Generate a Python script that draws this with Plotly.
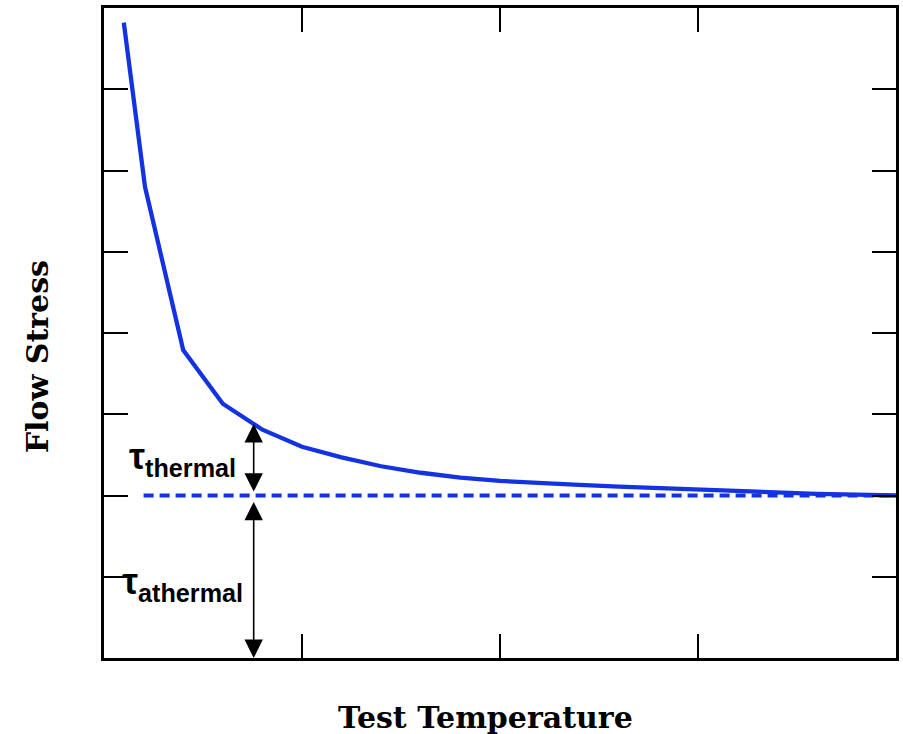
import plotly.graph_objects as go

# Data
temp = [0.1, 0.207, 0.4, 0.6, 0.8, 1.0, 1.2, 1.4, 1.6, 1.8, 2.0, 2.2, 2.4, 2.6, 2.8, 3.0, 3.2, 3.4, 3.6, 3.8, 4.0]
stress = [7.82, 5.80, 3.79, 3.13, 2.81, 2.60, 2.47, 2.36, 2.28, 2.22, 2.18, 2.15, 2.13, 2.11, 2.09, 2.07, 2.05, 2.04, 2.02, 2.01, 2.0]
athermal_x = [0.2, 4.0]
athermal_y = [2.0, 2.0]
arrow_x = 0.756
thermal_top = 2.88
athermal_level = 2.0
y_ticks = [1, 2, 3, 4, 5, 6, 7]
x_ticks = [1, 2, 3]

blue = "#1433e0"

fig = go.Figure()
fig.add_trace(go.Scatter(x=temp, y=stress, mode="lines",
                         line=dict(color=blue, width=4.3), showlegend=False))
fig.add_trace(go.Scatter(x=athermal_x, y=athermal_y, mode="lines",
                         line=dict(color=blue, width=4, dash="10px,6px"), showlegend=False))

arrow_common = dict(xref="x", yref="y", axref="x", ayref="y", text="",
                    showarrow=True, arrowhead=2, startarrowhead=2, arrowside="end+start",
                    arrowwidth=1.6, arrowsize=2.3, startarrowsize=2.3, arrowcolor="black",
                    standoff=0, startstandoff=0)
fig.add_annotation(x=arrow_x, y=thermal_top, ax=arrow_x, ay=athermal_level + 0.03, **arrow_common)
fig.add_annotation(x=arrow_x, y=0.0, ax=arrow_x, ay=athermal_level - 0.06, **arrow_common)

lab_font = dict(family="Liberation Sans, Arial", size=36, color="black")
fig.add_annotation(x=0.115, y=2.45, xref="x", yref="y", xanchor="left", yanchor="middle",
                   text="<b>τ<sub>thermal</sub></b>", showarrow=False, font=lab_font)
fig.add_annotation(x=0.08, y=0.91, xref="x", yref="y", xanchor="left", yanchor="middle",
                   text="<b>τ<sub>athermal</sub></b>", showarrow=False, font=lab_font)

title_font = dict(family="DejaVu Serif", size=30, color="black")
fig.add_annotation(x=487, y=717, xref="paper", yref="paper", showarrow=False,
                   text="<b>Test Temperature</b>", font=title_font)
fig.add_annotation(x=37, y=357, xref="paper", yref="paper", showarrow=False, textangle=-90,
                   text="<b>Flow Stress</b>", font=title_font)

axis_common = dict(showline=True, linewidth=3, linecolor="black", mirror="allticks",
                   ticks="inside", ticklen=24, tickwidth=2, tickcolor="black",
                   showticklabels=False, showgrid=False, zeroline=False)
fig.update_xaxes(range=[0, 4], tickvals=x_ticks, **axis_common)
fig.update_yaxes(range=[0, 8], tickvals=y_ticks, **axis_common)

L, R, T, B = 104, 4, 8, 76
W, H = 903, 734
# convert the title pixel positions to paper fractions
for ann in fig.layout.annotations:
    if ann.xref == "paper":
        ann.x = (ann.x - L) / (W - L - R)
        ann.y = (H - B - ann.y) / (H - T - B)
        ann.xanchor = "center"
        ann.yanchor = "middle"

fig.update_layout(width=W, height=H, margin=dict(l=L, r=R, t=T, b=B),
                  plot_bgcolor="white", paper_bgcolor="white")
fig.write_html("out.html")
